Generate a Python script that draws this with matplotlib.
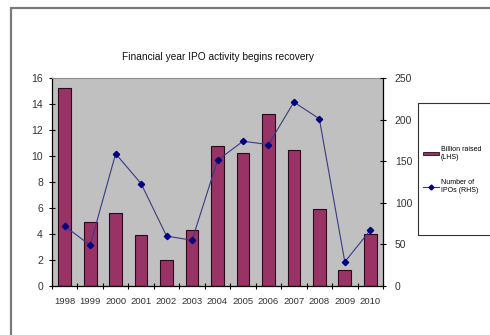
import matplotlib
matplotlib.use('Agg')
import matplotlib.pyplot as plt
from matplotlib.patches import Rectangle
from matplotlib.lines import Line2D
import numpy as np

plt.rcParams['font.family'] = ['Liberation Sans', 'DejaVu Sans']

# ── data ──
years = ['1998', '1999', '2000', '2001', '2002', '2003', '2004',
         '2005', '2006', '2007', '2008', '2009', '2010']
billion_raised = [15.2, 4.9, 5.6, 3.9, 2.0, 4.3, 10.8, 10.2, 13.2, 10.5, 5.9, 1.2, 4.0]
num_ipos = [72, 49, 159, 123, 60, 55, 151, 174, 170, 221, 201, 29, 67]

BAR = '#993366'
LINE = '#000080'
PLOT_BG = '#c0c0c0'

fig = plt.figure(figsize=(4.9, 3.35), dpi=100)
fig.patch.set_facecolor('white')

# outer chart frame
fig.patches.append(Rectangle((11 / 490, -0.2), 1.2, 0.2 + (1 - 8 / 335),
                             transform=fig.transFigure, fill=False,
                             edgecolor='#7a7a7a', linewidth=1.6, zorder=0))

ax = fig.add_axes([52 / 490, 49 / 335, 331 / 490, 208 / 335])
ax.set_facecolor(PLOT_BG)
x = np.arange(len(years))
ax.bar(x, billion_raised, width=0.5, color=BAR, edgecolor='#2a0a1a',
       linewidth=0.8, zorder=2)
ax.set_xlim(-0.5, len(years) - 0.5)
ax.set_ylim(0, 16)
ax.set_yticks(range(0, 17, 2))
ax.set_xticks(x)
ax.set_xticklabels(years)
ax.set_xticks(np.arange(-0.5, len(years)), minor=True)
ax.tick_params(axis='x', which='major', length=0, labelsize=6.8, pad=8,
               labelcolor='#333333')
ax.tick_params(axis='x', which='minor', length=5, direction='inout', width=0.8)
ax.tick_params(axis='y', length=5, direction='inout', width=0.8, labelsize=7.5,
               pad=4, labelcolor='#333333')

for s in ['left', 'bottom']:
    ax.spines[s].set_color('black')
    ax.spines[s].set_linewidth(0.9)
ax.spines['top'].set_color('#909090')
ax.spines['right'].set_visible(False)

ax2 = ax.twinx()
ax2.plot(x, num_ipos, color='#3a3a84', linewidth=0.8, marker='D', markersize=3.2,
         markerfacecolor=LINE, markeredgecolor=LINE, zorder=3)
ax2.set_ylim(0, 250)
ax2.set_yticks(range(0, 251, 50))
ax2.tick_params(axis='y', length=5, direction='inout', width=0.8, labelsize=7.5,
                pad=6, labelcolor='#333333')
for s in ['left', 'bottom', 'top']:
    ax2.spines[s].set_visible(False)
ax2.spines['right'].set_color('black')
ax2.spines['right'].set_linewidth(0.9)

fig.text(0.444, 1 - 57 / 335, 'Financial year IPO activity begins recovery',
         ha='center', va='center', fontsize=7.3, color='#111111')

# legend box
fig.patches.append(Rectangle((418 / 490, 1 - 235 / 335), 0.3, 132 / 335,
                             transform=fig.transFigure, fill=False,
                             edgecolor='#333333', linewidth=0.8))
handles = [Rectangle((0, 0), 1, 1, facecolor=BAR, edgecolor='#2a0a1a', linewidth=0.6),
           Line2D([], [], color='#3a3a84', linewidth=0.8, marker='D', markersize=2.5,
                  markerfacecolor=LINE, markeredgecolor=LINE)]
fig.legend(handles, ['Billion raised\n(LHS)', 'Number of\nIPOs (RHS)'],
           loc='center left', bbox_to_anchor=(420 / 490, 1 - 170 / 335),
           frameon=False, fontsize=5, handlelength=2.2, handleheight=0.4,
           handletextpad=0.3, labelspacing=2.6, borderpad=0)

fig.savefig('out.png', dpi=100, facecolor='white')
